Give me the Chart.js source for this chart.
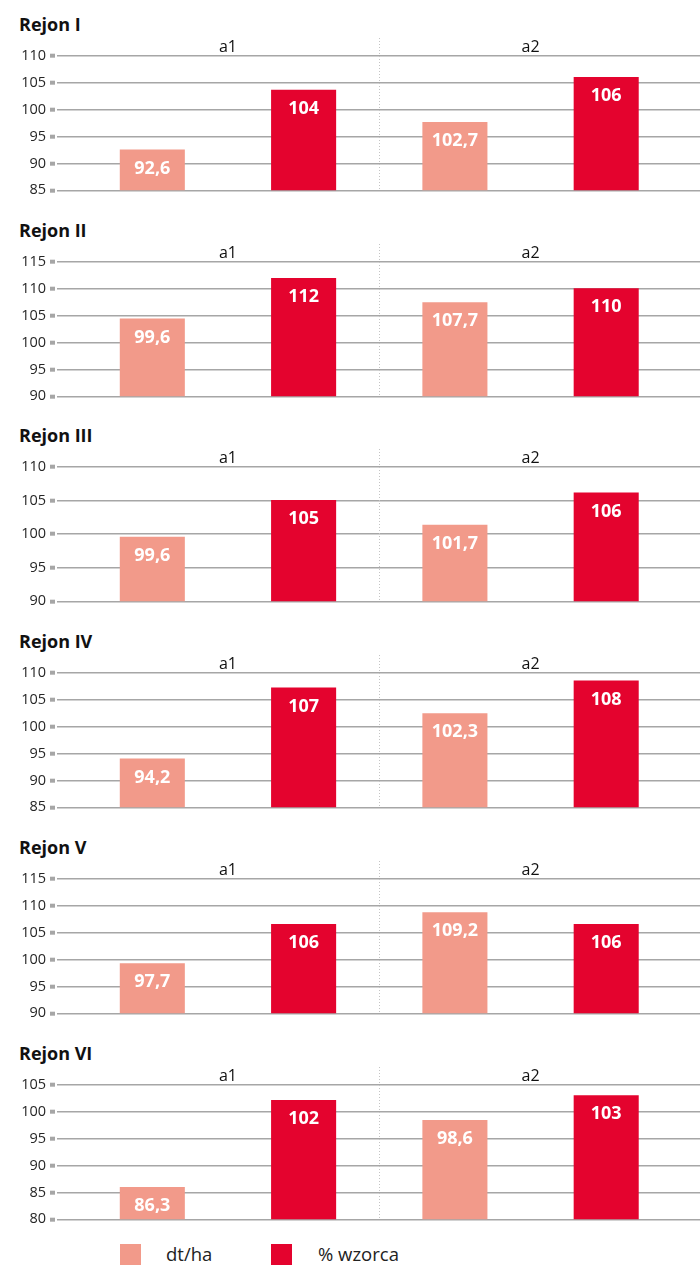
<!DOCTYPE html>
<html>
<head>
<meta charset="utf-8">
<script src="https://cdn.jsdelivr.net/npm/chart.js@4.4.1/dist/chart.umd.min.js"></script>
<style>
  html, body { margin: 0; padding: 0; background: #fff; }
  body { width: 700px; height: 1267px; position: relative; overflow: hidden; font-family: "Open Sans", sans-serif; }
  .panel { position: absolute; left: 0; width: 700px; height: 205px; }
  .panel h3 { position: absolute; left: 19px; top: 12px; margin: 0; font-size: 18px; font-weight: 700; color: #111; line-height: 24px; }
  .panel canvas { position: absolute; left: 0; top: 30px; }
  .legend { position: absolute; top: 1244px; left: 0; width: 700px; height: 22px; }
  .legend span.box { position: absolute; top: 0; width: 21px; height: 21px; }
  .legend span.txt { position: absolute; top: -1px; font-size: 18.5px; line-height: 22px; color: #222; }
</style>
</head>
<body>
<div id="charts"></div>
<div class="legend" id="legend"></div>
<script>
// Chart data
const regions = ["Rejon I", "Rejon II", "Rejon III", "Rejon IV", "Rejon V", "Rejon VI"];
const categories = ["a1", "a2"];
const seriesNames = ["dt/ha", "% wzorca"];

// bar heights as drawn
const dtHeights = [[92.6, 97.7], [104.5, 107.5], [99.6, 101.4], [94.1, 102.5], [99.3, 108.8], [86.0, 98.5]];
const wzHeights = [[103.7, 106.1], [112.0, 110.1], [105.1, 106.2], [107.3, 108.6], [106.6, 106.6], [102.2, 103.1]];

// values printed on the bars
const dtLabels = [[92.6, 102.7], [99.6, 107.7], [99.6, 101.7], [94.2, 102.3], [97.7, 109.2], [86.3, 98.6]];
const wzLabels = [[104, 106], [112, 110], [105, 106], [107, 108], [106, 106], [102, 103]];

// y axis ranges
const yMin = [85, 90, 90, 85, 90, 80];
const yMax = [110, 115, 110, 110, 115, 105];
const yStep = 5;

const colors = ["#F29A8A", "#E4032E"];
const gridColor = "#A6A6A6";
const fontFamily = "'Open Sans', sans-serif";

function fmt(v) {
  return String(v).replace(".", ",");
}

// dotted separator between groups
const separatorPlugin = {
  id: "separator",
  beforeDatasetsDraw(chart) {
    const x = chart.scales.x.getPixelForValue(0.5);
    const area = chart.chartArea;
    const ctx = chart.ctx;
    ctx.save();
    ctx.strokeStyle = "#C4C4C4";
    ctx.lineWidth = 1;
    ctx.setLineDash([1, 2]);
    ctx.beginPath();
    ctx.moveTo(Math.round(x) + 0.5, area.top - 18);
    ctx.lineTo(Math.round(x) + 0.5, area.bottom);
    ctx.stroke();
    ctx.restore();
  },
};

// white value labels inside bars
const valueLabelPlugin = {
  id: "valueLabels",
  afterDatasetsDraw(chart) {
    const ctx = chart.ctx;
    ctx.save();
    ctx.fillStyle = "#fff";
    ctx.font = "bold 18px " + fontFamily;
    ctx.textAlign = "center";
    ctx.textBaseline = "middle";
    chart.data.datasets.forEach((ds, di) => {
      chart.getDatasetMeta(di).data.forEach((bar, i) => {
        ctx.fillText(fmt(ds.valueLabels[i]), bar.x, bar.y + 19);
      });
    });
    ctx.restore();
  },
};

const chartsEl = document.getElementById("charts");

regions.forEach((name, r) => {
  const panel = document.createElement("div");
  panel.className = "panel";
  panel.style.top = Math.round(r * 205.7) + "px";
  const title = document.createElement("h3");
  title.textContent = name;
  const canvas = document.createElement("canvas");
  canvas.width = 700;
  canvas.height = 173;
  panel.appendChild(title);
  panel.appendChild(canvas);
  chartsEl.appendChild(panel);

  new Chart(canvas, {
    type: "bar",
    data: {
      datasets: [
        {
          label: seriesNames[0],
          data: dtHeights[r].map((v, i) => ({ x: i, y: v })),
          valueLabels: dtLabels[r],
          backgroundColor: colors[0],
        },
        {
          label: seriesNames[1],
          data: wzHeights[r].map((v, i) => ({ x: i, y: v })),
          valueLabels: wzLabels[r],
          backgroundColor: colors[1],
        },
      ],
    },
    options: {
      responsive: false,
      animation: false,
      categoryPercentage: 1,
      barPercentage: 0.43,
      layout: { padding: { top: 0, bottom: 10, left: 0, right: 0 } },
      plugins: {
        legend: { display: false },
        tooltip: { enabled: false },
      },
      scales: {
        x: {
          type: "linear",
          position: "top",
          offset: false,
          min: -0.565,
          max: 1.56,
          afterBuildTicks: (s) => {
            s.ticks = categories.map((c, i) => ({ value: i }));
          },
          afterFit: (s) => {
            s.height = 26;
          },
          ticks: {
            autoSkip: false,
            maxRotation: 0,
            padding: -1,
            color: "#111",
            font: { family: fontFamily, size: 16 },
            callback: (v) => categories[v],
          },
          grid: { display: false, drawTicks: false },
          border: { display: false },
        },
        y: {
          min: yMin[r],
          max: yMax[r],
          afterFit: (s) => {
            s.width = 57;
          },
          ticks: {
            stepSize: yStep,
            padding: 4,
            color: "#262626",
            font: { family: fontFamily, size: 14.5 },
          },
          grid: {
            color: gridColor,
            lineWidth: 1.4,
            tickLength: 7,
            tickWidth: 4,
            tickColor: gridColor,
            tickBorderDash: [5, 20],
          },
          border: { display: false },
        },
      },
    },
    plugins: [separatorPlugin, valueLabelPlugin],
  });
});

// Legend
const legendEl = document.getElementById("legend");
const legendBoxX = [120, 271];
const legendTextX = [166, 318];
seriesNames.forEach((s, i) => {
  const box = document.createElement("span");
  box.className = "box";
  box.style.left = legendBoxX[i] + "px";
  box.style.background = colors[i];
  const txt = document.createElement("span");
  txt.className = "txt";
  txt.style.left = legendTextX[i] + "px";
  txt.textContent = s;
  legendEl.appendChild(box);
  legendEl.appendChild(txt);
});
</script>
</body>
</html>
